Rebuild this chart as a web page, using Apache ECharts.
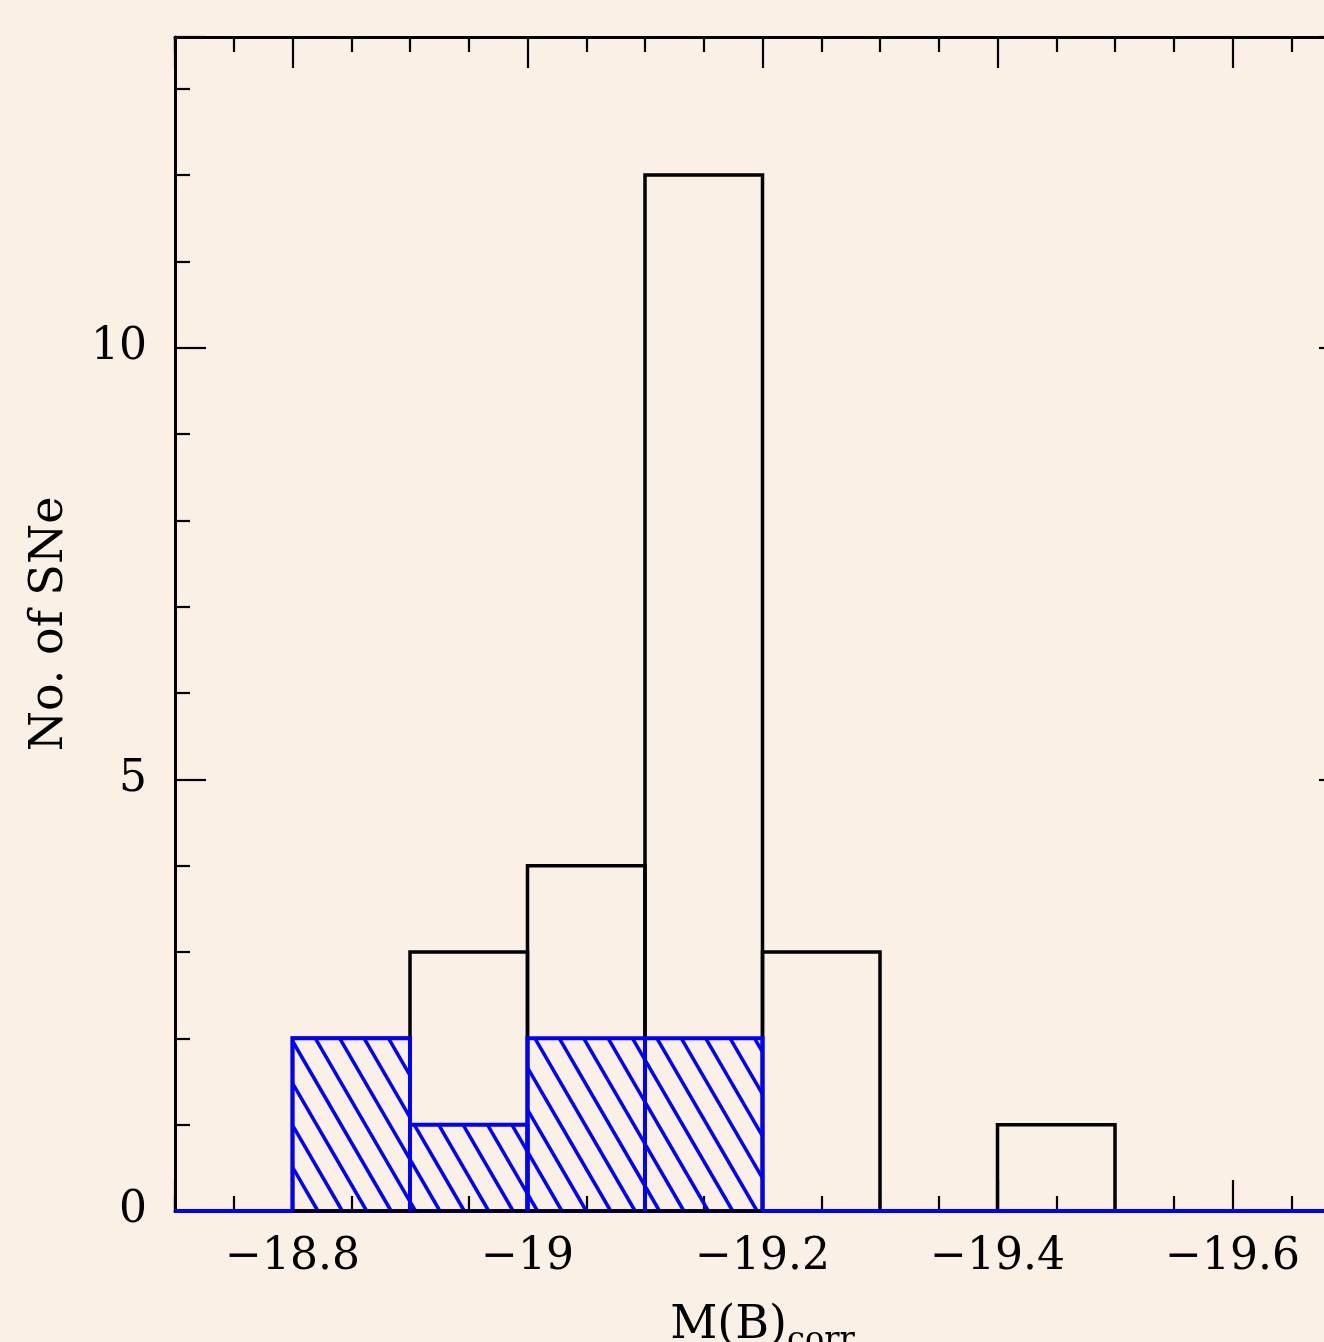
<!DOCTYPE html>
<html>
<head>
<meta charset="utf-8">
<script src="https://cdn.jsdelivr.net/npm/echarts@6/dist/echarts.min.js"></script>
<style>
  html, body { margin: 0; padding: 0; background: #faf0e6; }
  #chart1 { width: 1324px; height: 1342px; }
</style>
</head>
<body>
<div id="chart1"></div>
<script>
// histogram bins (left edge = less negative magnitude), width 0.1 mag
var binLeft = [-18.8, -18.9, -19.0, -19.1, -19.2, -19.3, -19.4]
var binWidth = 0.1
var allCounts = [2, 3, 4, 12, 3, 0, 1]
var subCounts = [2, 1, 2, 2, 0, 0, 0]
var xRange = [-19.7, -18.7]
var yRange = [0, 13.6]
var yStep = 5

var font = 'DejaVu Serif'
var blue = '#0000ff'
var chart1

function minus (v) {
  return String(v).replace('-', '\u2212')
}

function toData (counts) {
  return binLeft.map(function (x, i) {
    return [x, +(x - binWidth).toFixed(2), counts[i]]
  })
}

function renderBox (color, lw, hatch) {
  return function (params, api) {
    var h = api.value(2)
    if (!h) return
    var p0 = api.coord([api.value(0), 0])
    var p1 = api.coord([api.value(1), h])
    var xa = Math.min(p0[0], p1[0])
    var xc = Math.max(p0[0], p1[0])
    var yb = p0[1]
    var yt = p1[1]
    var children = []
    if (hatch) {
      var base = api.coord([binLeft[0], 0])[0] + 1
      var gap = 24.4
      var r = 0.58
      for (var k = -20; k < 80; k++) {
        var c = base + k * gap
        // bottom point (c, yb), goes up-left
        var xs = c, ys = yb
        if (xs > xc) { ys = yb - (xs - xc) / r; xs = xc }
        if (xs < xa || ys < yt) continue
        var xe = c - (yb - yt) * r, ye = yt
        if (xe < xa) { ye = yb - (c - xa) / r; xe = xa }
        if (ye > ys) continue
        children.push({
          type: 'line',
          shape: { x1: xs, y1: ys, x2: xe, y2: ye },
          style: { stroke: color, lineWidth: 3.5 }
        })
      }
      children.push({
        type: 'line',
        shape: { x1: xa, y1: yb, x2: xc, y2: yb },
        style: { stroke: '#000', lineWidth: 3 }
      })
    }
    children.push({
      type: 'polyline',
      shape: { points: [[xa, yb], [xa, yt], [xc, yt], [xc, yb]] },
      style: { stroke: color, lineWidth: lw, fill: 'none' }
    })
    return { type: 'group', children: children }
  }
}

function xAxisOpt (pos, labels) {
  return {
    type: 'value',
    position: pos,
    min: xRange[0],
    max: xRange[1],
    inverse: true,
    splitNumber: 5,
    axisLine: { onZero: false, lineStyle: { color: '#000', width: 3 } },
    axisTick: { inside: true, length: 31, lineStyle: { color: '#000', width: 2.2 } },
    minorTick: { show: true, splitNumber: 4, length: 15, lineStyle: { color: '#000', width: 2.2 } },
    splitLine: { show: false },
    axisLabel: {
      show: labels,
      showMinLabel: false,
      showMaxLabel: false,
      margin: 25,
      color: '#000',
      fontFamily: font,
      fontSize: 44,
      formatter: minus
    },
    name: labels ? 'M(B){s|corr}' : '',
    nameLocation: 'middle',
    nameGap: 84,
    nameTextStyle: {
      color: '#000',
      fontFamily: font,
      fontSize: 46,
      rich: { s: { fontFamily: font, fontSize: 32, color: '#000', padding: [30, 0, 0, 0] } }
    }
  }
}

function yAxisOpt (pos, labels) {
  return {
    type: 'value',
    position: pos,
    min: yRange[0],
    max: yRange[1],
    interval: yStep,
    axisLine: { lineStyle: { color: '#000', width: 3 } },
    axisTick: { inside: true, length: 31, lineStyle: { color: '#000', width: 2.2 } },
    minorTick: { show: true, splitNumber: 5, length: 15, lineStyle: { color: '#000', width: 2.2 } },
    splitLine: { show: false },
    axisLabel: {
      show: labels,
      showMaxLabel: false,
      margin: 28,
      color: '#000',
      fontFamily: font,
      fontSize: 44
    },
    name: labels ? 'No. of SNe' : '',
    nameLocation: 'middle',
    nameGap: 102,
    nameTextStyle: { color: '#000', fontFamily: font, fontSize: 46 }
  }
}

function rendChart1 () {
  if (chart1 != null && chart1 != undefined) {
    chart1.dispose()
  }
  chart1 = echarts.init(document.getElementById('chart1'))
  var option = {
    backgroundColor: '#faf0e6',
    animation: false,
    grid: {
      left: 175,
      top: 37,
      width: 1175,
      height: 1174,
      containLabel: false,
      outerBoundsMode: 'none'
    },
    xAxis: [xAxisOpt('bottom', true), xAxisOpt('top', false)],
    yAxis: [yAxisOpt('left', true), yAxisOpt('right', false)],
    series: [
      {
        name: 'all',
        type: 'custom',
        renderItem: renderBox('#000', 3.5, false),
        encode: { x: [0, 1], y: 2 },
        data: toData(allCounts),
        clip: false,
        z: 3
      },
      {
        name: 'baseline',
        type: 'line',
        data: [[xRange[0], 0], [xRange[1], 0]],
        symbol: 'none',
        lineStyle: { color: blue, width: 4 },
        z: 4
      },
      {
        name: 'subset',
        type: 'custom',
        renderItem: renderBox(blue, 4, true),
        encode: { x: [0, 1], y: 2 },
        data: toData(subCounts),
        clip: false,
        z: 5
      }
    ]
  }
  chart1.setOption(option)
}

rendChart1()
</script>
</body>
</html>
